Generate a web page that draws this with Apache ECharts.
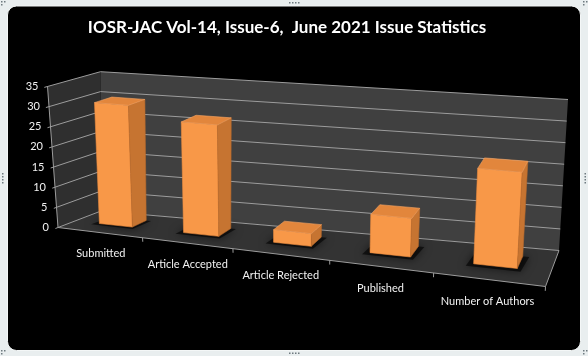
<!DOCTYPE html>
<html><head><meta charset="utf-8">
<script src="https://cdn.jsdelivr.net/npm/echarts@6/dist/echarts.min.js"></script>
<style>html,body{margin:0;padding:0;background:#e9eeef;}#c{width:588px;height:356px;}</style>
</head><body><div id="c"></div>
<script>
const titleText = 'IOSR-JAC Vol-14, Issue-6,  June 2021 Issue Statistics';
const categories = ['Submitted', 'Article Accepted', 'Article Rejected', 'Published', 'Number of Authors'];
const values = [30, 27, 3, 9, 22];
const valueTicks = [0, 5, 10, 15, 20, 25, 30, 35];
const valueMax = 35;

// 3D box layout: screen position of each corner (u = category fraction, v = value fraction, d = depth)
const cA = [58, 227.5];   // u0 v0 d0
const cB = [47.5, 86.5];  // u0 v1 d0
const cC = [100.5, 71.7]; // u0 v1 d1
const cD = [101, 211];    // u0 v0 d1
const cE = [559, 250.5];  // u1 v0 d1
const cF = [568, 99.5];   // u1 v1 d1
const cG = [545.5, 286.5];// u1 v0 d0
const cH = [554.3, 130.7];// u1 v1 d0
const persp = 1.191;      // foreshortening along the category direction

function proj(u, v, d) {
  const s = u / (persp - (persp - 1) * u);
  const w = [
    [(1 - s) * (1 - v) * (1 - d), cA], [(1 - s) * v * (1 - d), cB], [(1 - s) * v * d, cC], [(1 - s) * (1 - v) * d, cD],
    [s * (1 - v) * d, cE], [s * v * d, cF], [s * (1 - v) * (1 - d), cG], [s * v * (1 - d), cH]
  ];
  let x = 0, y = 0;
  w.forEach(([k, c]) => { x += k * c[0]; y += k * c[1]; });
  return [x, y];
}
function uv(cs, pt) {
  return [(pt[0] - cs.x) / cs.width, (cs.y + cs.height - pt[1]) / cs.height];
}

const GRID = '#9c9c9c';
const LABEL = '#f2f2f2';
const FONT = 'Lato, "Open Sans", sans-serif';
const barDepth = [0.4, 0.75];

function renderFrame(params, api) {
  if (params.dataIndex !== 0) return;
  const cs = params.coordSys;
  const ch = [];
  ch.push({ type: 'polygon', shape: { points: [proj(0, 0, 0), proj(0, 0, 1), proj(0, 1, 1), proj(0, 1, 0)] }, style: { fill: '#2f2f2f' } });
  ch.push({ type: 'polygon', shape: { points: [proj(0, 0, 1), proj(1, 0, 1), proj(1, 1, 1), proj(0, 1, 1)] }, style: { fill: '#404040' } });
  ch.push({ type: 'polygon', shape: { points: [proj(0, 0, 0), proj(1, 0, 0), proj(1, 0, 1), proj(0, 0, 1)] }, style: { fill: '#333333' } });
  valueTicks.forEach(t => {
    const v = uv(cs, api.coord([0, t]))[1];
    ch.push({ type: 'polyline', shape: { points: [proj(0, v, -0.06), proj(0, v, 1), proj(1, v, 1)] }, style: { stroke: GRID, lineWidth: 1, fill: null } });
    const p = proj(0, v, 0);
    ch.push({ type: 'text', style: { text: String(t), x: p[0] - 9, y: p[1], fill: LABEL, fontSize: 11, fontFamily: FONT, align: 'right', verticalAlign: 'middle' } });
  });
  ch.push({ type: 'polyline', shape: { points: [proj(0, 1, 0), proj(0, 0, 0), proj(1, 0, 0), proj(1, 0, 1)] }, style: { stroke: GRID, lineWidth: 1, fill: null } });
  const band = api.size([1, 0])[0];
  categories.forEach((c, i) => {
    const ctr = api.coord([i, 0]);
    const uL = (ctr[0] - band / 2 - cs.x) / cs.width;
    const uC = (ctr[0] - cs.x) / cs.width;
    if (i > 0) {
      const a = proj(uL, 0, 0), b = proj(uL, -0.028, 0);
      ch.push({ type: 'line', shape: { x1: a[0], y1: a[1], x2: b[0], y2: b[1] }, style: { stroke: GRID, lineWidth: 1 } });
    }
    const p = proj(uC, -0.145, 0);
    ch.push({ type: 'text', style: { text: c, x: p[0], y: p[1], fill: LABEL, fontSize: 11, fontFamily: FONT, align: 'center', verticalAlign: 'middle' } });
  });
  const a = proj(1, 0, 0), b = proj(1, -0.028, 0);
  ch.push({ type: 'line', shape: { x1: a[0], y1: a[1], x2: b[0], y2: b[1] }, style: { stroke: GRID, lineWidth: 1 } });
  return { type: 'group', children: ch };
}

function renderBar(params, api) {
  const cs = params.coordSys;
  const top = api.coord([api.value(0), api.value(1)]);
  const band = api.size([1, 0])[0];
  const half = band * 0.2;
  const u0 = (top[0] - half - cs.x) / cs.width, u1 = (top[0] + half - cs.x) / cs.width;
  const v = uv(cs, top)[1];
  const d0 = barDepth[0], d1 = barDepth[1];
  const ch = [];
  ch.push({ type: 'polygon', shape: { points: [proj(u0 - 0.012, 0, d0 - 0.08), proj(u1 + 0.008, 0, d0 - 0.08), proj(u1 + 0.012, 0, d1), proj(u0 - 0.008, 0, d1)] }, style: { fill: 'rgba(0,0,0,0.6)', shadowBlur: 9, shadowColor: 'rgba(0,0,0,0.9)' } });
  ch.push({ type: 'polygon', shape: { points: [proj(u0, 0, d0), proj(u1, 0, d0), proj(u1, v, d0), proj(u0, v, d0)] }, style: { fill: '#f89848', stroke: '#ec8b3e', lineWidth: 0.6 } });
  ch.push({ type: 'polygon', shape: { points: [proj(u1, 0, d0), proj(u1, 0, d1), proj(u1, v, d1), proj(u1, v, d0)] }, style: { fill: '#c67431', stroke: '#b96a2c', lineWidth: 0.6 } });
  ch.push({ type: 'polygon', shape: { points: [proj(u0, v, d0), proj(u1, v, d0), proj(u1, v, d1), proj(u0, v, d1)] }, style: { fill: '#e2863c', stroke: '#f6a463', lineWidth: 0.6 } });
  return { type: 'group', children: ch };
}

function handles() {
  const g = [];
  const dot = (x, y) => g.push({ type: 'rect', shape: { x: x, y: y, width: 1.5, height: 1.5 }, style: { fill: '#6f7a80' }, z: 50 });
  [289, 292, 295, 298].forEach(x => { dot(x, 2); dot(x, 352.5); });
  [173, 176, 179, 182].forEach(y => { dot(2, y); dot(584.5, y); });
  [[1, 1], [583, 1], [1, 350], [583, 350]].forEach(([x, y]) => { dot(x, y); dot(x + 3, y); dot(x, y + 3); });
  return g;
}

const chart = echarts.init(document.getElementById('c'), null, { renderer: 'canvas' });
chart.setOption({
  backgroundColor: 'transparent',
  animation: false,
  title: { text: titleText, left: 282, top: 22.5, textAlign: 'center', textVerticalAlign: 'middle', textStyle: { color: '#ffffff', fontSize: 17, fontWeight: 'bold', fontFamily: FONT } },
  graphic: [
    { type: 'rect', shape: { x: 7.5, y: 6, width: 573, height: 344.5, r: 9 }, style: { fill: '#000000', stroke: '#f4f7f7', lineWidth: 1 }, z: -10 }
  ].concat(handles()),
  grid: { left: 100, right: 100, top: 80, bottom: 80 },
  xAxis: { type: 'category', data: categories, show: false },
  yAxis: { type: 'value', min: 0, max: valueMax, interval: 5, show: false },
  series: [
    { type: 'custom', name: 'frame', data: [[0, 0]], renderItem: renderFrame, silent: true, z: 1 },
    { type: 'custom', name: 'bars', data: values.map((v, i) => [i, v]), encode: { x: 0, y: 1 }, renderItem: renderBar, z: 2 }
  ]
});
</script></body></html>
